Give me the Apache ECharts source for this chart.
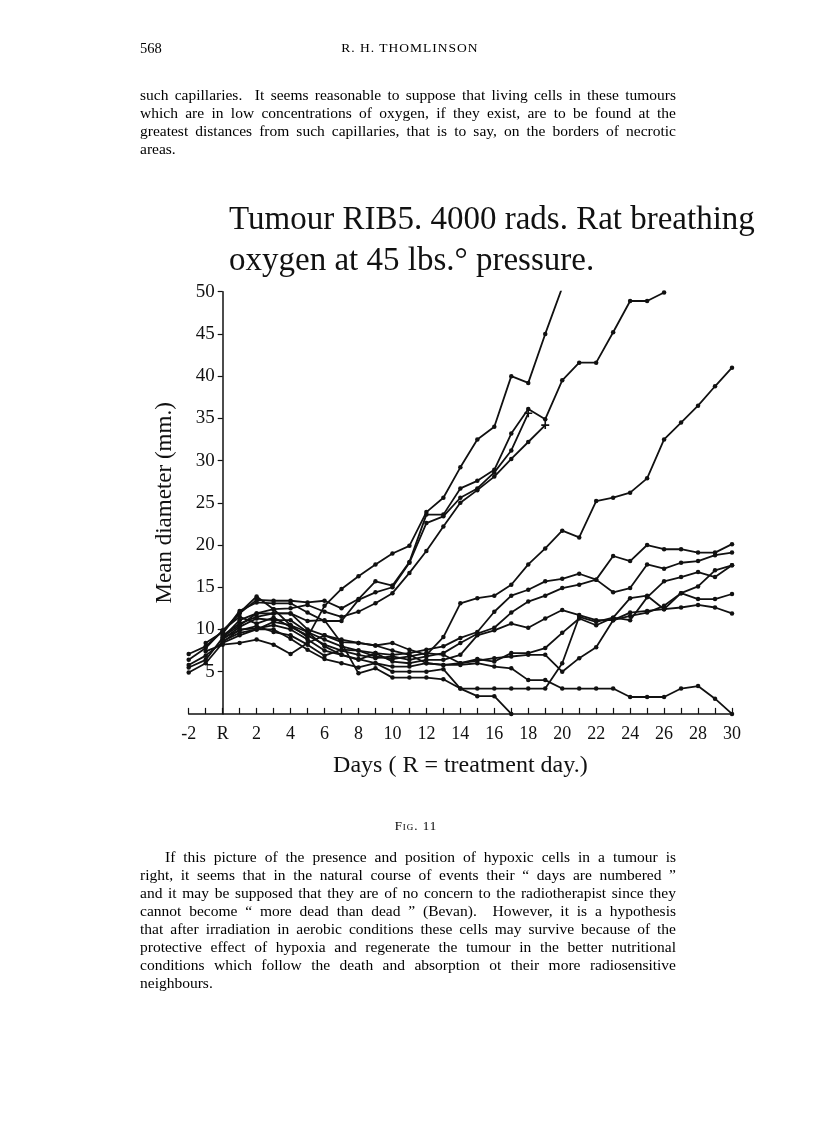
<!DOCTYPE html>
<html><head><meta charset="utf-8">
<script src="https://cdn.jsdelivr.net/npm/echarts@6/dist/echarts.min.js"></script>
<style>
html,body{margin:0;padding:0;background:#fff;}
#page{position:relative;width:816px;height:1136px;overflow:hidden;font-family:"Liberation Serif","DejaVu Serif",serif;color:#000;}
#chart{position:absolute;left:0;top:0;width:816px;height:1136px;}
.t{position:absolute;font-size:15.5px;line-height:18px;white-space:nowrap;}
.j{text-align:justify;text-align-last:justify;white-space:normal;}
</style></head>
<body>
<div id="page">
<div id="chart"></div>
<div class="t" style="left:140px;top:39px;font-size:14.5px;">568</div>
<div class="t" style="left:310px;top:39px;width:200px;text-align:center;font-size:13.5px;letter-spacing:1px;">R. H. THOMLINSON</div>

<div class="t j" style="left:140px;top:86px;width:536px;">such capillaries.&nbsp; It seems reasonable to suppose that living cells in these tumours</div>
<div class="t j" style="left:140px;top:104px;width:536px;">which are in low concentrations of oxygen, if they exist, are to be found at the</div>
<div class="t j" style="left:140px;top:122px;width:536px;">greatest distances from such capillaries, that is to say, on the borders of necrotic</div>
<div class="t" style="left:140px;top:140px;">areas.</div>

<div class="t" style="left:316px;top:817px;width:200px;text-align:center;font-size:13px;font-variant:small-caps;letter-spacing:1px;">Fig. 11</div>

<div class="t j" style="left:165px;top:848px;width:511px;">If this picture of the presence and position of hypoxic cells in a tumour is</div>
<div class="t j" style="left:140px;top:866px;width:536px;">right, it seems that in the natural course of events their “ days are numbered ”</div>
<div class="t j" style="left:140px;top:884px;width:536px;">and it may be supposed that they are of no concern to the radiotherapist since they</div>
<div class="t j" style="left:140px;top:902px;width:536px;">cannot become “ more dead than dead ” (Bevan).&nbsp; However, it is a hypothesis</div>
<div class="t j" style="left:140px;top:920px;width:536px;">that after irradiation in aerobic conditions these cells may survive because of the</div>
<div class="t j" style="left:140px;top:938px;width:536px;">protective effect of hypoxia and regenerate the tumour in the better nutritional</div>
<div class="t j" style="left:140px;top:956px;width:536px;">conditions which follow the death and absorption ot their more radiosensitive</div>
<div class="t" style="left:140px;top:974px;">neighbours.</div>
</div>
<script>
// ---- Data ----
const titleLines = ['Tumour RIB5. 4000 rads. Rat breathing', 'oxygen at 45 lbs.° pressure.'];
const xAxisName = 'Days ( R = treatment day.)';
const yAxisName = 'Mean diameter (mm.)';
const days = [-2,-1,0,1,2,3,4,5,6,7,8,9,10,11,12,13,14,15,16,17,18,19,20,21,22,23,24,25,26,27,28,29,30];
const xLabelDays = [-2,0,2,4,6,8,10,12,14,16,18,20,22,24,26,28,30];
const yTickValues = [5,10,15,20,25,30,35,40,45,50];

const tumourA = [7.1,8.0,9.8,12.0,13.9,12.4,10.5,9.1,12.8,14.8,16.3,17.7,19.0,19.9,23.9,25.6,29.2,32.5,34.0,40.0,39.2,45.0,50.5,null,null,null,null,null,null,null,null,null,null];
const tumourB = [null,8.4,9.7,11.9,13.5,13.4,13.4,13.2,13.4,12.5,13.6,15.7,15.2,18.0,23.6,23.6,26.7,27.6,28.9,33.2,36.1,34.9,39.5,41.6,41.6,45.2,48.9,48.9,49.9,null,null,null,null];
const tumourC = [null,null,9.3,10.7,11.5,11.9,11.9,10.0,9.3,8.5,8.4,8.1,8.4,7.6,7.0,9.1,13.1,13.7,14.0,15.3,17.7,19.6,21.7,20.9,25.2,25.6,26.2,27.9,32.5,34.5,36.5,38.8,41.0];
const tumourD = [null,null,9.5,12.2,13.2,13.1,13.1,12.0,11.0,11.0,13.5,14.4,15.0,17.9,22.6,23.4,25.6,26.7,28.6,31.2,35.6,null,null,null,null,null,null,null,null,null,null,null,null];
const tumourE = [null,null,9.0,11.1,11.9,12.4,12.5,12.9,12.1,11.5,12.1,13.1,14.3,16.7,19.3,22.2,25.0,26.5,28.1,30.2,32.2,34.2,null,null,null,null,null,null,null,null,null,null,null];
const tumourG = [null,null,8.8,10.3,11.3,11.1,11.1,9.7,8.8,8.0,7.5,7.2,7.0,7.2,7.6,8.0,9.0,9.7,12.1,14.0,14.7,15.7,16.0,16.6,15.9,14.4,14.9,17.7,17.2,17.9,18.1,18.8,19.1];
const tumourH = [6.4,7.8,9.9,11.5,10.7,11.4,10.3,9.3,8.2,7.5,7.0,6.6,6.8,6.4,6.8,7.2,8.4,9.5,10.2,12.0,13.3,14.0,14.9,15.3,15.9,18.7,18.1,20.0,19.5,19.5,19.1,19.1,20.1];
const tumourI = [5.8,6.9,8.5,10.0,10.1,10.5,10.0,8.8,7.5,7.0,6.4,7.2,6.2,6.0,6.4,6.4,7.0,9.3,9.9,10.7,10.2,11.3,12.3,11.7,11.1,11.1,12.0,12.2,12.4,12.6,12.9,12.6,11.9];
const tumourJ = [null,7.4,8.2,8.4,8.8,8.2,7.1,8.4,9.3,8.8,8.4,8.1,7.5,7.0,6.0,5.8,6.0,6.5,6.2,7.2,7.2,7.8,9.6,11.3,10.5,11.4,11.1,13.8,15.7,16.2,16.8,16.2,17.6];
const tumourK = [5.5,6.4,9.0,9.9,10.4,9.7,9.3,8.2,6.9,7.6,7.5,6.8,6.5,6.8,7.2,7.0,6.0,6.3,6.6,6.8,7.0,7.0,5.0,6.6,7.9,11.1,11.6,12.0,12.8,14.3,15.1,17.0,17.6];
const tumourM = [4.9,6.0,8.4,9.3,10.0,10.0,8.9,7.6,6.5,6.0,5.5,6.0,5.6,5.6,6.0,5.8,5.8,6.0,5.6,5.4,4.0,4.0,3.0,3.0,3.0,3.0,2.0,2.0,2.0,3.0,3.3,1.8,0];
const tumourN = [null,null,8.6,9.6,10.0,10.9,10.5,9.7,8.0,7.0,6.5,6.0,5.0,5.0,5.0,5.3,3.0,2.1,2.1,0,null,null,null,null,null,null,null,null,null,null,null,null,null];
const tumourS = [null,null,9.1,10.5,11.9,11.9,11.9,11.0,11.1,8.4,4.8,5.4,4.3,4.3,4.3,4.1,3.0,3.0,3.0,3.0,3.0,3.0,6.0,11.5,10.9,11.4,13.7,14.0,12.4,14.3,13.6,13.6,14.2];
const crossEndSeries = ['D','E'];

const tumours = {A:tumourA,B:tumourB,C:tumourC,D:tumourD,E:tumourE,G:tumourG,H:tumourH,I:tumourI,J:tumourJ,K:tumourK,M:tumourM,N:tumourN,S:tumourS};

// ---- Chart ----
const FONT = '"Liberation Serif","DejaVu Serif",serif';
const INK = '#111';
const crossPath = 'path://M4,0 L6,0 L6,4 L10,4 L10,6 L6,6 L6,10 L4,10 L4,6 L0,6 L0,4 L4,4 Z';

const series = Object.keys(tumours).map(function (key) {
  const vals = tumours[key];
  const pts = [];
  days.forEach(function (d, i) { if (vals[i] !== null) pts.push([d, vals[i]]); });
  const data = pts.map(function (p, idx) {
    if (crossEndSeries.indexOf(key) >= 0 && idx === pts.length - 1) {
      return {value: p, symbol: crossPath, symbolSize: 8};
    }
    return p;
  });
  return {
    name: key, type: 'line', data: data,
    symbol: 'circle', symbolSize: 4.5, showSymbol: true,
    lineStyle: {color: INK, width: 1.8},
    itemStyle: {color: INK},
    emphasis: {disabled: true},
    clip: true, z: 3
  };
});

const chart = echarts.init(document.getElementById('chart'), null, {renderer: 'canvas'});
chart.setOption({
  animation: false,
  backgroundColor: 'transparent',
  title: {
    text: titleLines.join('\n'), left: 224, top: 195,
    textStyle: {fontFamily: FONT, fontSize: 33, fontWeight: 'normal', color: INK, lineHeight: 41}
  },
  grid: {left: 188.7, right: 84, top: 291.7, bottom: 422.1, containLabel: false},
  xAxis: {
    type: 'value', min: -2, max: 30, interval: 1,
    axisLine: {onZero: false, lineStyle: {color: INK, width: 1.5}},
    axisTick: {show: true, inside: true, length: 6, lineStyle: {color: INK, width: 1.2}},
    splitLine: {show: false},
    axisLabel: {
      customValues: xLabelDays,
      formatter: function (v) { return v === 0 ? 'R' : String(v); },
      fontFamily: FONT, fontSize: 18, color: INK, margin: 11
    },
    name: xAxisName, nameLocation: 'middle', nameGap: 40,
    nameTextStyle: {fontFamily: FONT, fontSize: 24, color: INK}
  },
  yAxis: {
    type: 'value', min: 0, max: 50, interval: 5,
    offset: -34,
    axisLine: {show: true, onZero: false, lineStyle: {color: INK, width: 1.5}},
    axisTick: {show: true, inside: false, length: 5, customValues: yTickValues, lineStyle: {color: INK, width: 1.2}},
    splitLine: {show: false},
    axisLabel: {customValues: yTickValues, fontFamily: FONT, fontSize: 19, color: INK, margin: 8},
    name: yAxisName, nameLocation: 'middle', nameRotate: 90, nameGap: 46,
    nameTextStyle: {fontFamily: FONT, fontSize: 23, color: INK}
  },
  series: series
});
</script>
</body></html>
